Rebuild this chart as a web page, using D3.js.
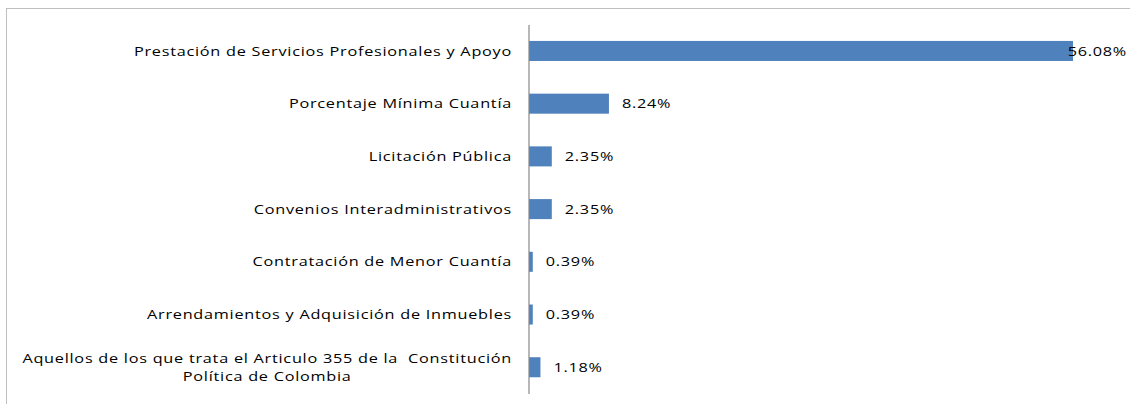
<!DOCTYPE html>
<html>
<head>
<meta charset="utf-8">
<script src="https://cdn.jsdelivr.net/npm/d3@7"></script>
<style>
  html, body { margin: 0; padding: 0; background: #fff; }
  svg { display: block; }
  text { font-family: "Open Sans", "DejaVu Sans", sans-serif; fill: #000; white-space: pre; }
</style>
</head>
<body>
<script>
// Modalidades de contratación (% del total)
const categories = [
  "Prestación de Servicios Profesionales y Apoyo",
  "Porcentaje Mínima Cuantía",
  "Licitación Pública",
  "Convenios Interadministrativos",
  "Contratación de Menor Cuantía",
  "Arrendamientos y Adquisición de Inmuebles",
  "Aquellos de los que trata el Articulo 355 de la  Constitución\nPolítica de Colombia"
];
const values = [56.08, 8.24, 2.35, 2.35, 0.39, 0.39, 1.18];
const valueLabels = ["56.08%", "8.24%", "2.35%", "2.35%", "0.39%", "0.39%", "1.18%"];

const W = 1130, H = 404;
const margin = { left: 529, top: 24.6, right: 57, bottom: 10.4 };
const fontSize = 13;
const letterSpacing = 0.6;
const stretch = 1.25;   // wide text rendering

const svg = d3.select("body").append("svg")
  .attr("width", W).attr("height", H);

// chart frame
svg.append("rect")
  .attr("x", 6.5).attr("y", 8.5)
  .attr("width", W + 10).attr("height", H + 10)
  .attr("fill", "none").attr("stroke", "#bfbfbf").attr("stroke-width", 1);

const x = d3.scaleLinear()
  .domain([0, 56.08])
  .range([margin.left, 1073]);

const y = d3.scaleBand()
  .domain(categories)
  .range([margin.top, H - margin.bottom])
  .paddingInner(0.62)
  .paddingOuter(0.31);

// bars
svg.append("g").selectAll("rect")
  .data(values)
  .join("rect")
  .attr("x", x(0))
  .attr("y", (d, i) => y(categories[i]))
  .attr("width", d => x(d) - x(0))
  .attr("height", y.bandwidth())
  .attr("fill", "#4f81bd");

// category axis
const axis = svg.append("g")
  .attr("transform", `translate(${x(0) - 0.5},0)`)
  .call(d3.axisLeft(y).tickSize(0).tickFormat(""));
axis.select(".domain").attr("stroke", "#888").attr("stroke-width", 1.2);

// horizontally stretched text placed with its anchor at (ax, 0)
function wideText(ax, anchor) {
  return svg.append("text")
    .attr("transform", `translate(${ax},0) scale(${stretch},1)`)
    .attr("text-anchor", anchor)
    .attr("font-size", fontSize)
    .attr("letter-spacing", letterSpacing);
}

// category labels (multi-line ones are centred as a block)
const labelRight = x(0) - 17;
const lineH = 18;
categories.forEach(c => {
  const lines = c.split("\n");
  const cy = y(c) + y.bandwidth() / 2;
  const t = wideText(labelRight, "end");
  lines.forEach((ln, k) => {
    t.append("tspan")
      .attr("x", 0)
      .attr("y", cy + (k - (lines.length - 1) / 2) * lineH)
      .attr("dy", "0.35em")
      .text(ln);
  });
  if (lines.length > 1) {
    let maxW = 0;
    t.selectAll("tspan").each(function () {
      maxW = Math.max(maxW, this.getComputedTextLength());
    });
    t.attr("text-anchor", "middle")
      .attr("transform", `translate(${labelRight - maxW * stretch / 2},0) scale(${stretch},1)`);
  }
});

// value labels
values.forEach((v, i) => {
  const t = wideText(0, "start")
    .attr("y", y(categories[i]) + y.bandwidth() / 2)
    .attr("dy", "0.35em")
    .text(valueLabels[i]);
  const tw = t.node().getComputedTextLength() * stretch;
  const ax = Math.min(x(v) + 13, W - 3 - tw);
  t.attr("transform", `translate(${ax},0) scale(${stretch},1)`);
});
</script>
</body>
</html>
